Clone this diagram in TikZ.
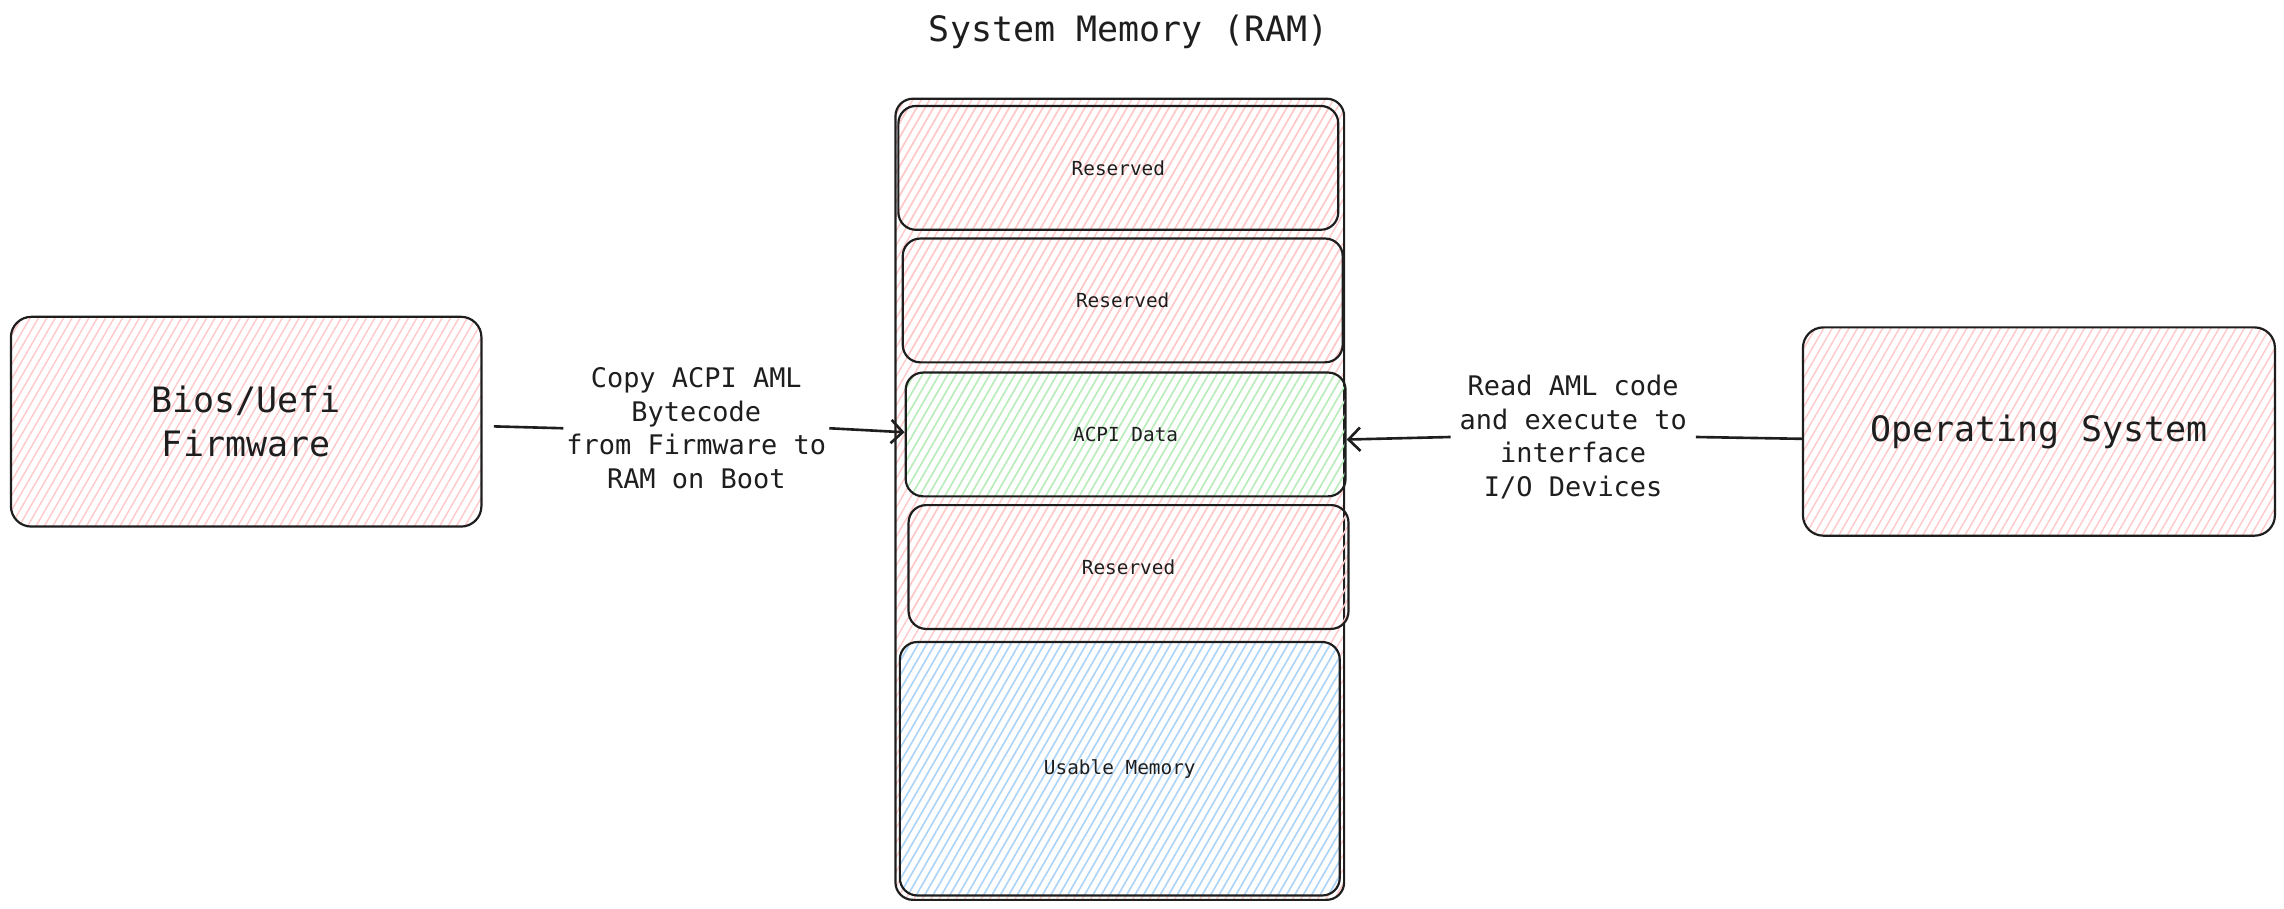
\documentclass[tikz,border=0pt]{standalone}
\usepackage{fontspec}
\setmonofont{DejaVu Sans Mono}
\usetikzlibrary{patterns.meta,arrows.meta}
\definecolor{ink}{HTML}{1E1E1E}
\definecolor{hatchred}{HTML}{FFC9C9}
\definecolor{hatchgreen}{HTML}{B2F2BB}
\definecolor{hatchblue}{HTML}{A5D8FF}

\begin{document}
\begin{tikzpicture}[x=1pt,y=-1pt,
   hatch/.style={pattern={Lines[angle=60,distance=5pt,line width=1pt]},pattern color=#1},
   box/.style={draw=ink,line width=1.5pt,rounded corners=14pt,anchor=north west,inner sep=0pt,
     text=ink,align=center,font=\ttfamily\fontsize{24}{30}\selectfont},
   cell/.style={box,hatch=#1,rounded corners=12pt,minimum width=302pt,minimum height=85pt,
     font=\ttfamily\fontsize{13.3}{16}\selectfont},
   lbl/.style={fill=white,text=ink,align=center,inner sep=2pt,font=\ttfamily\fontsize{18.5}{23}\selectfont},
   conn/.style={draw=ink,line width=1.8pt},
   tip/.style={-{Straight Barb[length=8pt,width=16pt]}},
   ]
   \useasboundingbox (0,0) rectangle (1568,624);
   \node[text=ink,font=\ttfamily\fontsize{24}{30}\selectfont] (ramtitle) at (775,22) {System Memory (RAM)};
   \node[box,hatch=hatchred,minimum width=323pt,minimum height=144pt] (bios) at (7,217) {Bios/Uefi\\Firmware};
   \node[box,hatch=hatchred,minimum width=324pt,minimum height=143pt] (os) at (1237,224) {Operating System};
   \node[box,hatch=hatchred,rounded corners=12pt,minimum width=308pt,minimum height=550pt] (ram) at (614,67) {};
   \node[cell=hatchred] (res1) at (616,72) {Reserved};
   \node[cell=hatchred] (res2) at (619,163) {Reserved};
   \node[cell=hatchgreen] (acpi) at (621,255) {ACPI Data};
   \node[cell=hatchred] (res3) at (623,346) {Reserved};
   \node[cell=hatchblue,minimum height=174pt] (usable) at (617,440) {Usable Memory};
   \node[lbl] (copy) at (478,294) {Copy ACPI AML\\Bytecode\\from Firmware to\\RAM on Boot};
   \node[lbl,inner xsep=6pt] (read) at (1080,300) {Read AML code\\and execute to\\interface\\I/O Devices};
   \draw[conn,shorten <=8pt] ([yshift=-3pt]bios.east) -- (copy.west);
   \draw[conn,tip] (copy.east) -- ([yshift=1.5pt]acpi.west);
   \draw[conn] ([yshift=-5pt]os.west) -- (read.east);
   \draw[conn,tip] (read.west) -- ([yshift=-3.5pt]acpi.east);
\end{tikzpicture}
\end{document}
